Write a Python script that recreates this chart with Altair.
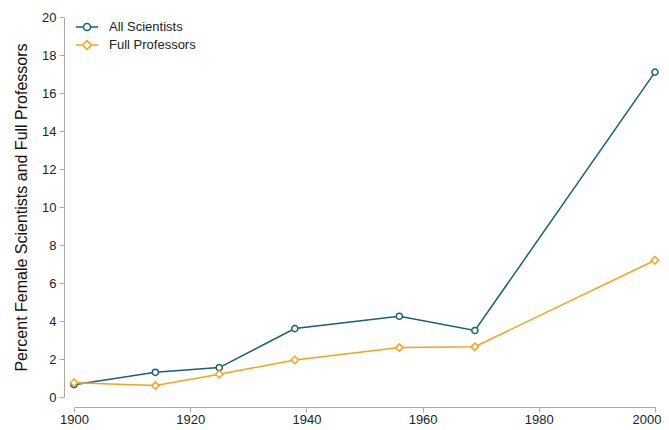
import altair as alt
import pandas as pd

years = [1900, 1914, 1925, 1938, 1956, 1969, 2000]
all_scientists = [0.65, 1.3, 1.55, 3.6, 4.25, 3.5, 17.1]
full_professors = [0.75, 0.6, 1.2, 1.95, 2.6, 2.65, 7.2]
series_names = ["All Scientists", "Full Professors"]
series_colors = ["#16607a", "#f7a21b"]
x_ticks = [1900, 1920, 1940, 1960, 1980, 2000]
y_ticks = [0, 2, 4, 6, 8, 10, 12, 14, 16, 18, 20]

rows = []
for y, a, f in zip(years, all_scientists, full_professors):
    rows.append({"year": y, "series": series_names[0], "pct": a})
    rows.append({"year": y, "series": series_names[1], "pct": f})
df = pd.DataFrame(rows)

FONT = "Liberation Sans"

x_enc = alt.X("year:Q", scale=alt.Scale(domain=[1900, 2000], nice=False),
              axis=alt.Axis(values=x_ticks, format="d", title=None, labelPadding=1,
                            labelAlign={"condition": {"test": "datum.value == 2000", "value": "right"},
                                        "value": "center"},
                            labelOffset={"condition": {"test": "datum.value == 2000", "value": 6},
                                         "value": 0}))
y_enc = alt.Y("pct:Q", scale=alt.Scale(domain=[0, 20], nice=False),
              axis=alt.Axis(values=y_ticks, title="Percent Female Scientists and Full Professors",
                            titleFontSize=16, titleFontWeight="normal", titleColor="#111",
                            titlePadding=12))
color_scale = alt.Scale(domain=series_names, range=series_colors)

path_circle = "M-1.4,0H-0.44M0.44,0H1.4M-0.44,0A0.44,0.44 0 1,1 0.44,0A0.44,0.44 0 1,1 -0.44,0"
path_diamond = "M-1.4,0H-0.55M0.55,0H1.4M-0.55,0L0,-0.55L0.55,0L0,0.55Z"

leg = alt.Legend(title=None, orient="none", legendX=4, legendY=1,
                 symbolSize=256, symbolStrokeWidth=1.5, labelOffset=13,
                 labelFontSize=13, labelFont=FONT, labelColor="#222", rowPadding=2)

color_enc = alt.Color("series:N", scale=color_scale, legend=leg)

base = alt.Chart(df).encode(x=x_enc, y=y_enc, color=color_enc)

lines = base.mark_line(strokeWidth=1.5)

pts_a = base.transform_filter(alt.datum.series == series_names[0]).mark_point(
    shape="circle", size=38, filled=False, fill="white", fillOpacity=1, strokeWidth=1.5, opacity=1)
pts_b = base.transform_filter(alt.datum.series == series_names[1]).mark_point(
    shape="diamond", size=55, filled=False, fill="white", fillOpacity=1, strokeWidth=1.5, opacity=1)

legend_layer = base.transform_filter("false").mark_point(filled=False, strokeWidth=1.5).encode(
    shape=alt.Shape("series:N", scale=alt.Scale(domain=series_names, range=[path_circle, path_diamond]),
                    legend=leg),
)

chart = alt.layer(lines, pts_a, pts_b, legend_layer).properties(
    width=581, height=380,
    autosize=alt.AutoSizeParams(type="none"),
    padding={"left": 66, "top": 9, "right": 6, "bottom": 31},
).configure_view(stroke=None).configure_axis(
    grid=False, offset=10, domainColor="#aaa", tickColor="#aaa", tickSize=5,
    labelFontSize=13, labelFont=FONT, labelColor="#222", titleFont=FONT,
    labelPadding=3,
)

chart.save("out.html", embed_options={"renderer": "svg", "actions": False})
